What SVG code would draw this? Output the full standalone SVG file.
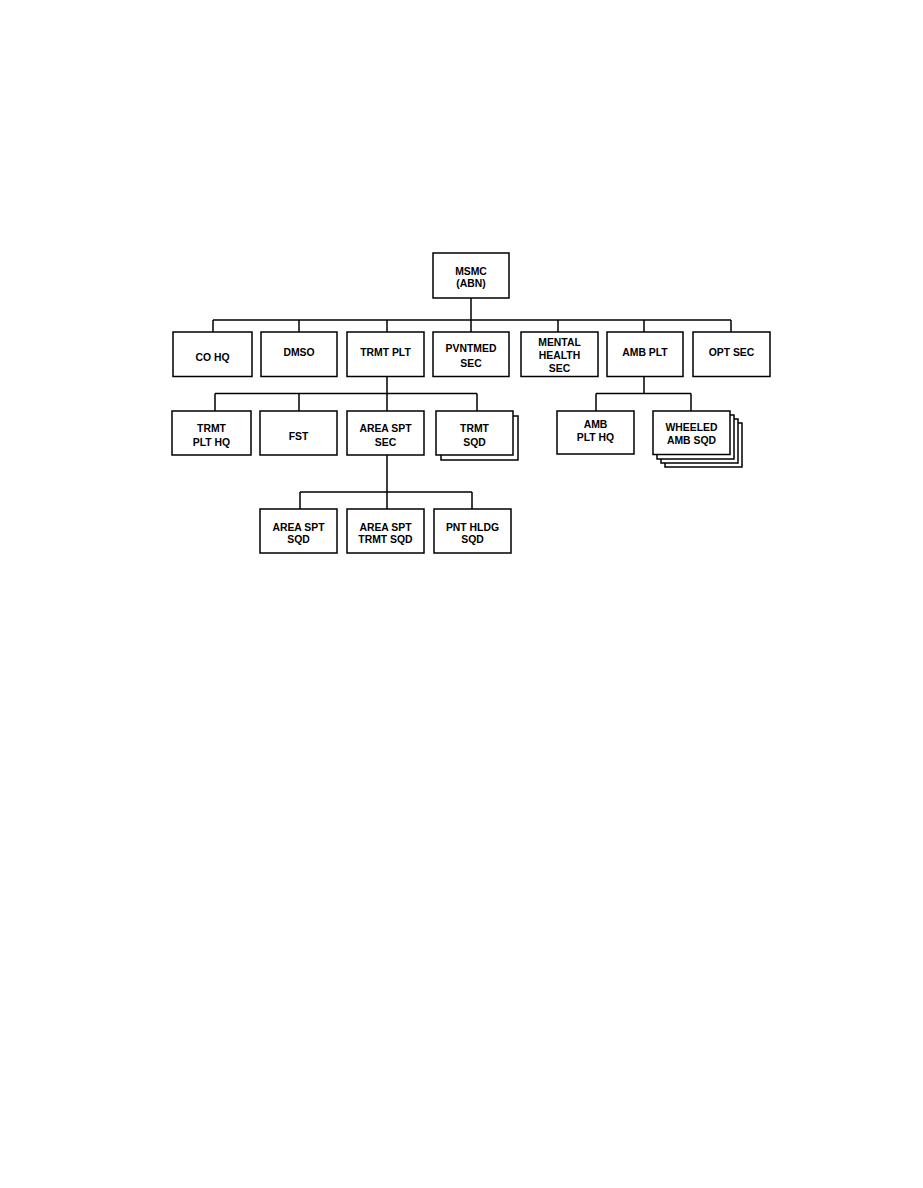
<svg xmlns="http://www.w3.org/2000/svg" width="923" height="1188" viewBox="0 0 923 1188">
<style>
.b{fill:#fff;stroke:#000;stroke-width:1.5}
.c{fill:none;stroke:#000;stroke-width:1.5}
text{font-family:"Liberation Sans",Arial,sans-serif;font-weight:bold;font-size:10.4px;text-anchor:middle;fill:#000}
</style>
<rect width="923" height="1188" fill="#fff"/>
<g id="connectors">
<path class="c" d="M471,298V320 M213,320H731 M213,320V332 M299,320V332 M387,320V332 M471,320V332 M558,320V332 M644,320V332 M731,320V332"/>
<path class="c" d="M387,376V509 M215,393.5H477 M215,393.5V411 M299,393.5V411 M477,393.5V411"/>
<path class="c" d="M644,376V393.5 M596,393.5H691 M596,393.5V411 M691,393.5V411"/>
<path class="c" d="M300,492H472 M300,492V509 M472,492V509"/>
</g>
<g id="msmc"><rect class="b" x="433" y="253" width="76" height="45"/><text x="471" y="275">MSMC</text><text x="471" y="287">(ABN)</text></g>
<g id="cohq"><rect class="b" x="173" y="332" width="79" height="44.5"/><text x="212.5" y="361">CO HQ</text></g>
<g id="dmso"><rect class="b" x="261" y="332" width="76" height="44.5"/><text x="299" y="356">DMSO</text></g>
<g id="trmtplt"><rect class="b" x="347" y="332" width="77" height="44.5"/><text x="385.5" y="356">TRMT PLT</text></g>
<g id="pvntmed"><rect class="b" x="433" y="332" width="76" height="44.5"/><text x="471" y="352">PVNTMED</text><text x="471" y="366.5">SEC</text></g>
<g id="mental"><rect class="b" x="521" y="332" width="77" height="44.5"/><text x="559.5" y="345.5">MENTAL</text><text x="559.5" y="359">HEALTH</text><text x="559.5" y="372">SEC</text></g>
<g id="ambplt"><rect class="b" x="607" y="332" width="76" height="44.5"/><text x="645" y="355.5">AMB PLT</text></g>
<g id="optsec"><rect class="b" x="693" y="332" width="77" height="44.5"/><text x="731.5" y="355.5">OPT SEC</text></g>
<g id="trmtplthq"><rect class="b" x="172" y="411" width="79" height="44"/><text x="211.5" y="432">TRMT</text><text x="211.5" y="445.5">PLT HQ</text></g>
<g id="fst"><rect class="b" x="260" y="411" width="77" height="44"/><text x="298.5" y="440">FST</text></g>
<g id="areasptsec"><rect class="b" x="347" y="411" width="77" height="44"/><text x="385.5" y="432">AREA SPT</text><text x="385.5" y="445.5">SEC</text></g>
<g id="trmtsqd"><rect class="b" x="441" y="416" width="77" height="44"/><rect class="b" x="436" y="411" width="77" height="44"/><text x="474.5" y="432">TRMT</text><text x="474.5" y="445.5">SQD</text></g>
<g id="ambplthq"><rect class="b" x="557" y="411" width="77" height="43"/><text x="595.5" y="428">AMB</text><text x="595.5" y="440.5">PLT HQ</text></g>
<g id="wheeled"><rect class="b" x="665" y="423" width="77" height="44"/><rect class="b" x="661" y="419" width="77" height="44"/><rect class="b" x="657" y="415" width="77" height="44"/><rect class="b" x="653" y="411" width="77" height="43.5"/><text x="691.5" y="430.5">WHEELED</text><text x="691.5" y="444">AMB SQD</text></g>
<g id="areasptsqd"><rect class="b" x="260" y="509" width="77" height="44"/><text x="298.5" y="530.5">AREA SPT</text><text x="298.5" y="543">SQD</text></g>
<g id="areaspttrmtsqd"><rect class="b" x="347" y="509" width="77" height="44"/><text x="385.5" y="530.5">AREA SPT</text><text x="385.5" y="543">TRMT SQD</text></g>
<g id="pnthldg"><rect class="b" x="434" y="509" width="77" height="44"/><text x="472.5" y="530.5">PNT HLDG</text><text x="472.5" y="543">SQD</text></g>
</svg>
